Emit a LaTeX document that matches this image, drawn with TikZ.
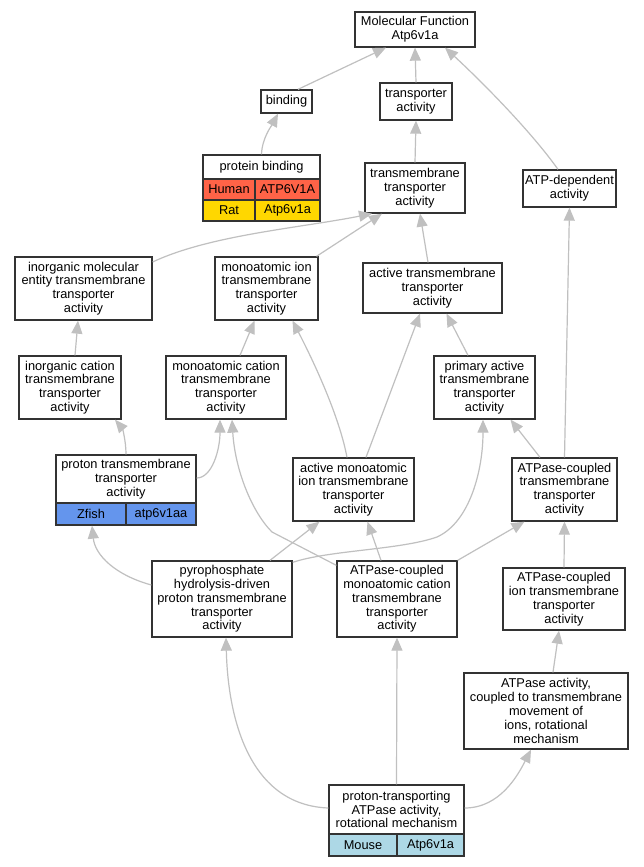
\documentclass[tikz,border=0pt]{standalone}
\usepackage{fontspec}
\setmainfont{Liberation Sans}
\usetikzlibrary{arrows.meta}
\definecolor{edgec}{HTML}{C0C0C0}
\definecolor{boxc}{HTML}{333333}
\definecolor{humanc}{HTML}{FF6347}
\definecolor{ratc}{HTML}{FFD700}
\definecolor{zfishc}{HTML}{6495ED}
\definecolor{mousec}{HTML}{ADD8E6}
\begin{document}
\begin{tikzpicture}[x=1pt,y=-1pt,
  box/.style={draw=boxc, line width=1.3pt, fill=white, inner sep=0pt, align=center,
    font=\fontsize{12.8}{13.8}\selectfont},
  edge/.style={draw=edgec, line width=1.2pt, -{Triangle[length=13pt,width=11pt,fill=edgec]}}]
\useasboundingbox[fill=white] (0,0) rectangle (643,867);

% nodes
\node[box, minimum width=120, minimum height=35] (mf) at (415,29.5) {Molecular Function\\Atp6v1a};
\node[box, minimum width=51, minimum height=23] (bind) at (286.5,101.5) {binding};
\node[box, minimum width=72, minimum height=37] (ta) at (416,101.5) {transporter\\activity};

\node[box, minimum width=117, minimum height=24] (pbt) at (261.5,167) {protein binding};
\node[box, fill=humanc, minimum width=52, minimum height=21] (pbh1) at (229,189.5) {Human};
\node[box, fill=humanc, minimum width=65, minimum height=21] (pbh2) at (287.5,189.5) {ATP6V1A};
\node[box, fill=ratc, minimum width=52, minimum height=21] (pbr1) at (229,210.5) {Rat};
\node[box, fill=ratc, minimum width=65, minimum height=21] (pbr2) at (287.5,210.5) {Atp6v1a};

\node[box, minimum width=100, minimum height=50] (tm) at (415,188) {transmembrane\\transporter\\activity};
\node[box, minimum width=93, minimum height=37] (atpdep) at (569.5,188.5) {ATP-dependent\\activity};

\node[box, minimum width=137, minimum height=63] (imet) at (83.5,288.5) {inorganic molecular\\entity transmembrane\\transporter\\activity};
\node[box, minimum width=103, minimum height=63] (mit) at (266.5,288.5) {monoatomic ion\\transmembrane\\transporter\\activity};
\node[box, minimum width=139, minimum height=50] (att) at (432.5,288) {active transmembrane\\transporter\\activity};

\node[box, minimum width=102, minimum height=63] (ict) at (70,387.5) {inorganic cation\\transmembrane\\transporter\\activity};
\node[box, minimum width=120, minimum height=63] (mct) at (226,387.5) {monoatomic cation\\transmembrane\\transporter\\activity};
\node[box, minimum width=101, minimum height=63] (pat) at (484.5,387.5) {primary active\\transmembrane\\transporter\\activity};

\node[box, minimum width=140, minimum height=48] (ptt) at (126,479) {proton transmembrane\\transporter\\activity};
\node[box, fill=zfishc, minimum width=70, minimum height=22] (ptz1) at (91,514) {Zfish};
\node[box, fill=zfishc, minimum width=70, minimum height=22] (ptz2) at (161,514) {atp6v1aa};

\node[box, minimum width=121, minimum height=63] (amit) at (353.5,489.5) {active monoatomic\\ion transmembrane\\transporter\\activity};
\node[box, minimum width=105, minimum height=63] (actt) at (564.5,489.5) {ATPase-coupled\\transmembrane\\transporter\\activity};

\node[box, minimum width=140, minimum height=76] (pyro) at (222,599) {pyrophosphate\\hydrolysis-driven\\proton transmembrane\\transporter\\activity};
\node[box, minimum width=120, minimum height=76] (amct) at (397,599) {ATPase-coupled\\monoatomic cation\\transmembrane\\transporter\\activity};
\node[box, minimum width=122, minimum height=62] (acit) at (564,599) {ATPase-coupled\\ion transmembrane\\transporter\\activity};

\node[box, minimum width=164, minimum height=76] (aact) at (546,711) {ATPase activity,\\coupled to transmembrane\\movement of\\ions, rotational\\mechanism};

\node[box, minimum width=135, minimum height=49] (pta) at (396.5,809.5) {proton-transporting\\ATPase activity,\\rotational mechanism};
\node[box, fill=mousec, minimum width=68, minimum height=22] (ptm1) at (363,845) {Mouse};
\node[box, fill=mousec, minimum width=67, minimum height=22] (ptm2) at (430.5,845) {Atp6v1a};

% edges
\draw[edge] ([xshift=11.5pt]bind.north) -- ([xshift=-29pt]mf.south);
\draw[edge] (ta.north) -- (mf.south);
\draw[edge] ([xshift=-11.5pt]atpdep.north) .. controls (530,130) and (480,80) .. ([xshift=30pt]mf.south);
\draw[edge] (pbt.north) .. controls (262,138) and (272,125) .. ([xshift=-8.5pt]bind.south);
\draw[edge] (tm.north) -- (ta.south);
\draw[edge] ([yshift=26.5pt]imet.east) .. controls (210,235) and (300,228) .. ([xshift=-43pt]tm.south);
\draw[edge] ([xshift=50pt]mit.north) -- ([xshift=-33pt]tm.south);
\draw[edge] ([xshift=-4.5pt]att.north) -- ([xshift=5pt]tm.south);
\draw[edge] ([xshift=5pt]ict.north) -- ([xshift=-5.5pt]imet.south);
\draw[edge] ([xshift=14pt]mct.north) -- ([xshift=-12pt]mit.south);
\draw[edge] ([xshift=-16.5pt]pat.north) -- ([xshift=14pt]att.south);
\draw[edge] (ptt.north) .. controls (126,440) and (122,428) .. ([xshift=45pt]ict.south);
\draw[edge] ([yshift=1pt]ptt.east) .. controls (212,478) and (220,450) .. ([xshift=-6pt]mct.south);
\draw[edge] ([xshift=-6.5pt]amit.north) .. controls (340,420) and (318,370) .. ([xshift=26pt]mit.south);
\draw[edge] ([xshift=12.5pt]amit.north) -- ([xshift=-12.5pt]att.south);
\draw[edge] ([xshift=-24.5pt]actt.north) -- ([xshift=26pt]pat.south);
\draw[edge] (actt.north) -- (atpdep.south);
\draw[edge] ([yshift=-5pt]amct.north west) -- (272,532) .. controls (252,512) and (235,470) .. ([xshift=6pt]mct.south);
\draw[edge] ([xshift=-16pt]amct.north) -- ([xshift=14pt]amit.south);
\draw[edge] (amct.north east) -- ([xshift=-40pt]actt.south);
\draw[edge] ([yshift=14pt]pyro.west) .. controls (115,575) and (95,555) .. ([xshift=1pt]ptz1.south);
\draw[edge] ([xshift=48pt]pyro.north) -- ([xshift=-34pt]amit.south);
\draw[edge] ([yshift=-2pt]pyro.north east) .. controls (330,550) and (400,550) .. (437,537) .. controls (470,522) and (483,470) .. ([xshift=-1.5pt]pat.south);
\draw[edge] (acit.north) -- (actt.south);
\draw[edge] ([xshift=7pt]aact.north) -- ([xshift=-5pt]acit.south);
\draw[edge] ([yshift=1.5pt]pta.west) .. controls (250,805) and (228,720) .. ([xshift=4pt]pyro.south);
\draw[edge] (pta.north) -- (amct.south);
\draw[edge] ([yshift=1.5pt]pta.east) .. controls (500,808) and (518,775) .. ([xshift=-15pt]aact.south);
\end{tikzpicture}
\end{document}
